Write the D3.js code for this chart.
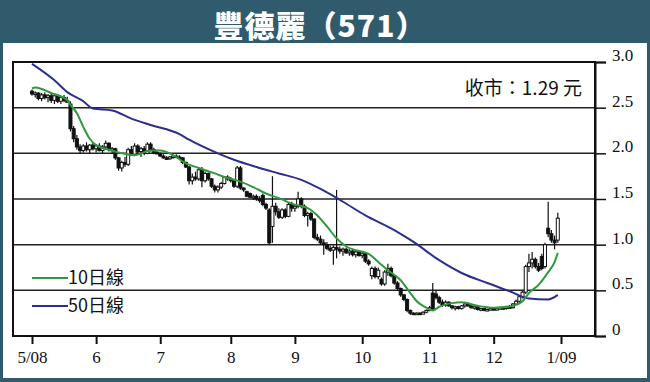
<!DOCTYPE html>
<html>
<head>
<meta charset="utf-8">
<script src="https://cdn.jsdelivr.net/npm/d3@7"></script>
<style>
  html, body { margin: 0; padding: 0; background: #2f5b6d; }
  svg { display: block; }
</style>
</head>
<body>
<div id="chart"></div>
<script>
// 豐德麗 (571) 日線圖 2008/05 - 2008/12

const title = '豐德麗（571）';
const closeLabel = '收市：1.29 元';

// 月份刻度 (交易日序號)
const monthIdx = [0, 20, 40, 62, 82, 103, 124, 144, 165];
const monthLabels = ['5/08', '6', '7', '8', '9', '10', '11', '12', '1/09'];

const priceTicks = [0, 0.5, 1.0, 1.5, 2.0, 2.5, 3.0];

// 每日 [開, 高, 低, 收]
const candles = [
  [2.68,2.70,2.63,2.65],[2.65,2.68,2.61,2.66],[2.66,2.67,2.58,2.60],[2.60,2.66,2.57,2.64],
  [2.64,2.67,2.59,2.61],[2.61,2.65,2.56,2.63],[2.63,2.66,2.55,2.58],[2.58,2.65,2.54,2.63],
  [2.63,2.65,2.55,2.57],[2.57,2.63,2.54,2.61],[2.61,2.64,2.56,2.58],[2.58,2.62,2.55,2.56],
  [2.54,2.57,2.24,2.27],[2.27,2.30,2.12,2.16],[2.16,2.20,2.04,2.07],[2.07,2.10,2.00,2.03],
  [2.03,2.10,2.01,2.08],[2.08,2.12,2.02,2.04],[2.04,2.10,2.00,2.09],[2.09,2.12,2.03,2.05],
  [2.05,2.10,2.01,2.08],[2.08,2.11,2.02,2.03],[2.03,2.09,2.00,2.07],[2.07,2.14,2.04,2.11],
  [2.11,2.12,2.02,2.04],[2.04,2.07,2.00,2.05],[2.05,2.06,1.93,1.95],[1.95,1.96,1.81,1.84],
  [1.84,1.92,1.80,1.90],[1.90,1.96,1.85,1.88],[1.88,2.06,1.86,2.04],[2.04,2.08,1.97,1.99],
  [1.99,2.11,1.97,2.08],[2.08,2.10,2.00,2.02],[2.02,2.07,1.96,2.05],[2.05,2.08,1.98,2.00],
  [2.00,2.12,1.99,2.10],[2.10,2.12,2.02,2.04],[2.04,2.06,1.99,2.01],[2.01,2.03,1.99,2.00],
  [2.00,2.01,1.96,1.97],[1.97,1.99,1.94,1.95],[1.95,1.97,1.93,1.94],[1.94,1.97,1.93,1.96],
  [1.96,1.98,1.94,1.97],[1.97,1.99,1.95,1.96],[1.96,1.98,1.94,1.95],[1.95,1.96,1.88,1.90],
  [1.90,1.91,1.84,1.85],[1.85,1.86,1.66,1.70],[1.70,1.78,1.66,1.74],[1.74,1.80,1.70,1.72],
  [1.72,1.84,1.70,1.82],[1.82,1.85,1.63,1.70],[1.70,1.80,1.68,1.78],[1.78,1.79,1.70,1.72],
  [1.72,1.73,1.62,1.64],[1.64,1.66,1.57,1.60],[1.60,1.65,1.57,1.63],[1.63,1.69,1.61,1.67],
  [1.67,1.75,1.66,1.74],[1.74,1.76,1.70,1.72],[1.72,1.74,1.68,1.70],[1.70,1.72,1.62,1.64],
  [1.64,1.86,1.62,1.84],[1.84,1.86,1.60,1.62],[1.62,1.63,1.58,1.60],[1.58,1.59,1.52,1.53],
  [1.56,1.57,1.51,1.52],[1.52,1.55,1.49,1.53],[1.53,1.55,1.48,1.50],[1.50,1.53,1.46,1.48],
  [1.54,1.56,1.42,1.44],[1.44,1.46,1.38,1.40],[1.38,1.40,1.00,1.02],[1.20,1.75,1.02,1.42],
  [1.42,1.46,1.32,1.36],[1.36,1.40,1.28,1.30],[1.30,1.40,1.28,1.38],[1.38,1.40,1.29,1.31],
  [1.31,1.46,1.30,1.44],[1.44,1.47,1.36,1.40],[1.40,1.44,1.36,1.42],[1.42,1.58,1.40,1.50],
  [1.50,1.52,1.40,1.42],[1.42,1.44,1.30,1.32],[1.32,1.36,1.20,1.34],[1.34,1.36,1.26,1.28],
  [1.28,1.29,1.06,1.08],[1.08,1.12,1.04,1.06],[1.06,1.10,1.00,1.02],[1.02,1.06,0.89,1.00],
  [1.00,1.03,0.94,0.96],[0.96,0.99,0.92,0.94],[0.94,0.99,0.78,0.97],[0.97,1.60,0.85,0.95],
  [0.95,0.98,0.90,0.93],[0.93,0.97,0.88,0.95],[0.95,0.97,0.90,0.91],[0.91,0.95,0.88,0.93],
  [0.93,0.95,0.87,0.89],[0.89,0.94,0.86,0.92],[0.92,0.94,0.87,0.88],[0.88,0.92,0.85,0.90],
  [0.90,0.91,0.80,0.82],[0.82,0.84,0.77,0.79],[0.66,0.76,0.62,0.74],[0.74,0.76,0.63,0.65],
  [0.65,0.75,0.62,0.72],[0.62,0.64,0.55,0.57],[0.57,0.72,0.55,0.70],[0.70,0.79,0.66,0.74],
  [0.74,0.76,0.64,0.66],[0.66,0.68,0.56,0.58],[0.58,0.60,0.50,0.52],[0.52,0.53,0.43,0.45],
  [0.45,0.46,0.38,0.40],[0.40,0.41,0.26,0.28],[0.28,0.29,0.23,0.25],[0.25,0.26,0.23,0.24],
  [0.24,0.26,0.23,0.25],[0.25,0.26,0.23,0.24],[0.24,0.27,0.24,0.26],[0.26,0.29,0.25,0.28],
  [0.28,0.33,0.27,0.31],[0.47,0.58,0.28,0.30],[0.46,0.50,0.40,0.42],[0.42,0.44,0.35,0.37],
  [0.37,0.40,0.32,0.34],[0.34,0.39,0.32,0.37],[0.37,0.38,0.32,0.33],[0.33,0.34,0.29,0.31],
  [0.31,0.33,0.28,0.32],[0.32,0.33,0.29,0.30],[0.30,0.34,0.29,0.33],[0.33,0.37,0.31,0.35],
  [0.35,0.37,0.32,0.33],[0.33,0.35,0.30,0.31],[0.31,0.33,0.29,0.32],[0.32,0.33,0.28,0.29],
  [0.29,0.31,0.27,0.30],[0.30,0.31,0.27,0.28],[0.28,0.30,0.27,0.29],[0.29,0.31,0.28,0.30],
  [0.30,0.31,0.28,0.29],[0.29,0.31,0.28,0.30],[0.30,0.32,0.29,0.31],[0.31,0.32,0.29,0.30],
  [0.30,0.33,0.29,0.32],[0.32,0.34,0.30,0.31],[0.31,0.36,0.30,0.35],[0.35,0.40,0.34,0.38],
  [0.38,0.45,0.36,0.43],[0.43,0.50,0.41,0.48],[0.48,0.78,0.46,0.76],[0.76,0.90,0.70,0.80],
  [0.80,0.92,0.74,0.84],[0.84,0.86,0.74,0.76],[0.76,0.80,0.70,0.72],[0.87,0.90,0.72,0.74],
  [0.76,1.02,0.74,1.00],[1.18,1.47,1.08,1.12],[1.12,1.16,1.02,1.05],[1.05,1.10,0.95,1.02],
  [1.05,1.35,1.02,1.29]
];

// 10日線
const ma10Idx = [0,1,6,11,12,14,16,18,20,24,28,32,37,40,44,48,52,57,61,65,
  69,73,77,81,87,89,92,95,98,101,105,108,111,115,118,120,123,125,127,131,
  134,139,144,150,153,155,158,161,163,164];
const ma10 = [2.71,2.72,2.66,2.58,2.53,2.44,2.29,2.16,2.09,2.04,2.00,1.98,2.03,2.03,1.98,1.89,1.84,1.78,1.73,1.69,
  1.63,1.56,1.51,1.45,1.38,1.32,1.20,1.07,0.98,0.94,0.90,0.81,0.72,0.61,0.47,0.38,0.31,0.28,0.32,0.36,
  0.37,0.33,0.31,0.33,0.38,0.47,0.56,0.70,0.81,0.91];

// 50日線
const ma50Idx = [0,7,11,16,19,25,31,37,46,49,58,63,71,77,84,90,97,104,113,119,127,134,142,149,155,161,164];
const ma50 = [2.98,2.80,2.67,2.57,2.49,2.47,2.38,2.31,2.21,2.15,2.00,1.93,1.84,1.78,1.71,1.61,1.47,1.32,1.16,1.03,
  0.83,0.69,0.58,0.49,0.41,0.40,0.45];

const W = 650, H = 382;
const colors = { frame: '#2f5b6d', ink: '#111', ma10: '#2f9a3c', ma50: '#2a2f8e' };

const svg = d3.select('#chart').append('svg')
  .attr('width', W).attr('height', H)
  .attr('viewBox', `0 0 ${W} ${H}`);

// 底色與白色面板
svg.append('rect').attr('width', W).attr('height', H).attr('fill', colors.frame);
svg.append('rect').attr('x', 3).attr('y', 43).attr('width', 644).attr('height', 335).attr('fill', '#fff');

svg.append('text')
  .attr('x', 320).attr('y', 37)
  .attr('text-anchor', 'middle')
  .attr('fill', '#fff')
  .style('font-family', '"Noto Sans CJK TC", sans-serif')
  .style('font-weight', 900)
  .style('font-size', '30px')
  .style('letter-spacing', '1px')
  .text(title);

const plot = { left: 13, right: 595, top: 62, bottom: 336 };

const x = d3.scaleLinear().domain([0, 165]).range([32, 561]);
const y = d3.scaleLinear().domain([0, 3]).range([plot.bottom, plot.top]);

// 橫格線
svg.append('g').selectAll('line')
  .data(priceTicks.filter(d => d > 0 && d < 3))
  .enter().append('line')
  .attr('x1', plot.left).attr('x2', plot.right)
  .attr('y1', d => y(d)).attr('y2', d => y(d))
  .attr('stroke', '#222').attr('stroke-width', 1.5);

// 外框
svg.append('rect')
  .attr('x', plot.left).attr('y', plot.top)
  .attr('width', plot.right - plot.left).attr('height', plot.bottom - plot.top)
  .attr('fill', 'none').attr('stroke', colors.ink).attr('stroke-width', 2);

// 右軸
const yAxis = svg.append('g')
  .attr('transform', `translate(${plot.right},0)`)
  .call(d3.axisRight(y).tickValues(priceTicks)
    .tickFormat(d => d === 0 ? '0' : d.toFixed(1))
    .tickSize(11).tickPadding(6));
yAxis.select('.domain').attr('stroke', colors.ink).attr('stroke-width', 2);
yAxis.selectAll('.tick line').attr('stroke', colors.ink).attr('stroke-width', 1.5);
yAxis.selectAll('.tick text')
  .attr('dy', '-0.08em')
  .attr('fill', colors.ink)
  .style('font-family', '"Liberation Serif", "Times New Roman", serif')
  .style('font-size', '17px');

// 下軸
const xAxis = svg.append('g')
  .attr('transform', `translate(0,${plot.bottom})`)
  .call(d3.axisBottom(x).tickValues(monthIdx)
    .tickFormat((d, i) => monthLabels[i])
    .tickSize(8).tickPadding(7));
xAxis.select('.domain').remove();
xAxis.selectAll('.tick line').attr('stroke', colors.ink).attr('stroke-width', 2);
xAxis.selectAll('.tick text')
  .attr('fill', colors.ink)
  .style('font-family', '"Liberation Serif", "Times New Roman", serif')
  .style('font-size', '17px');

// 陰陽燭
const bw = 3;
const cg = svg.append('g');
cg.selectAll('line.wick')
  .data(candles)
  .enter().append('line')
  .attr('class', 'wick')
  .attr('x1', (d, i) => x(i)).attr('x2', (d, i) => x(i))
  .attr('y1', d => y(d[1])).attr('y2', d => y(d[2]))
  .attr('stroke', colors.ink).attr('stroke-width', 1.2);

cg.selectAll('rect.body')
  .data(candles)
  .enter().append('rect')
  .attr('class', 'body')
  .attr('x', (d, i) => x(i) - bw / 2)
  .attr('width', bw)
  .attr('y', d => y(Math.max(d[0], d[3])))
  .attr('height', d => Math.max(1.5, Math.abs(y(d[0]) - y(d[3]))))
  .attr('fill', d => d[3] >= d[0] ? '#fff' : colors.ink)
  .attr('stroke', colors.ink)
  .attr('stroke-width', 1);

// 移動平均線
const line = d3.line()
  .x(d => x(d[0]))
  .y(d => y(d[1]))
  .curve(d3.curveMonotoneX);

svg.append('path')
  .datum(ma50Idx.map((d, i) => [d, ma50[i]]))
  .attr('d', line)
  .attr('fill', 'none').attr('stroke', colors.ma50).attr('stroke-width', 2);

svg.append('path')
  .datum(ma10Idx.map((d, i) => [d, ma10[i]]))
  .attr('d', line)
  .attr('fill', 'none').attr('stroke', colors.ma10).attr('stroke-width', 2);

// 收市價
svg.append('text')
  .attr('x', 582).attr('y', 95)
  .attr('text-anchor', 'end')
  .attr('fill', colors.ink)
  .style('font-family', '"Noto Sans CJK TC", sans-serif')
  .style('font-size', '19px')
  .text(closeLabel);

// 圖例
const legend = [
  { label: '10日線', color: colors.ma10, y: 278 },
  { label: '50日線', color: colors.ma50, y: 306 }
];
const lg = svg.append('g').selectAll('g')
  .data(legend).enter().append('g')
  .attr('transform', d => `translate(32,${d.y})`);
lg.append('line')
  .attr('x1', 0).attr('x2', 36)
  .attr('stroke', d => d.color).attr('stroke-width', 2);
lg.append('text')
  .attr('x', 36).attr('dy', '0.36em')
  .attr('fill', colors.ink)
  .style('font-family', '"Noto Sans CJK TC", sans-serif')
  .style('font-size', '18px')
  .text(d => d.label);
</script>
</body>
</html>
